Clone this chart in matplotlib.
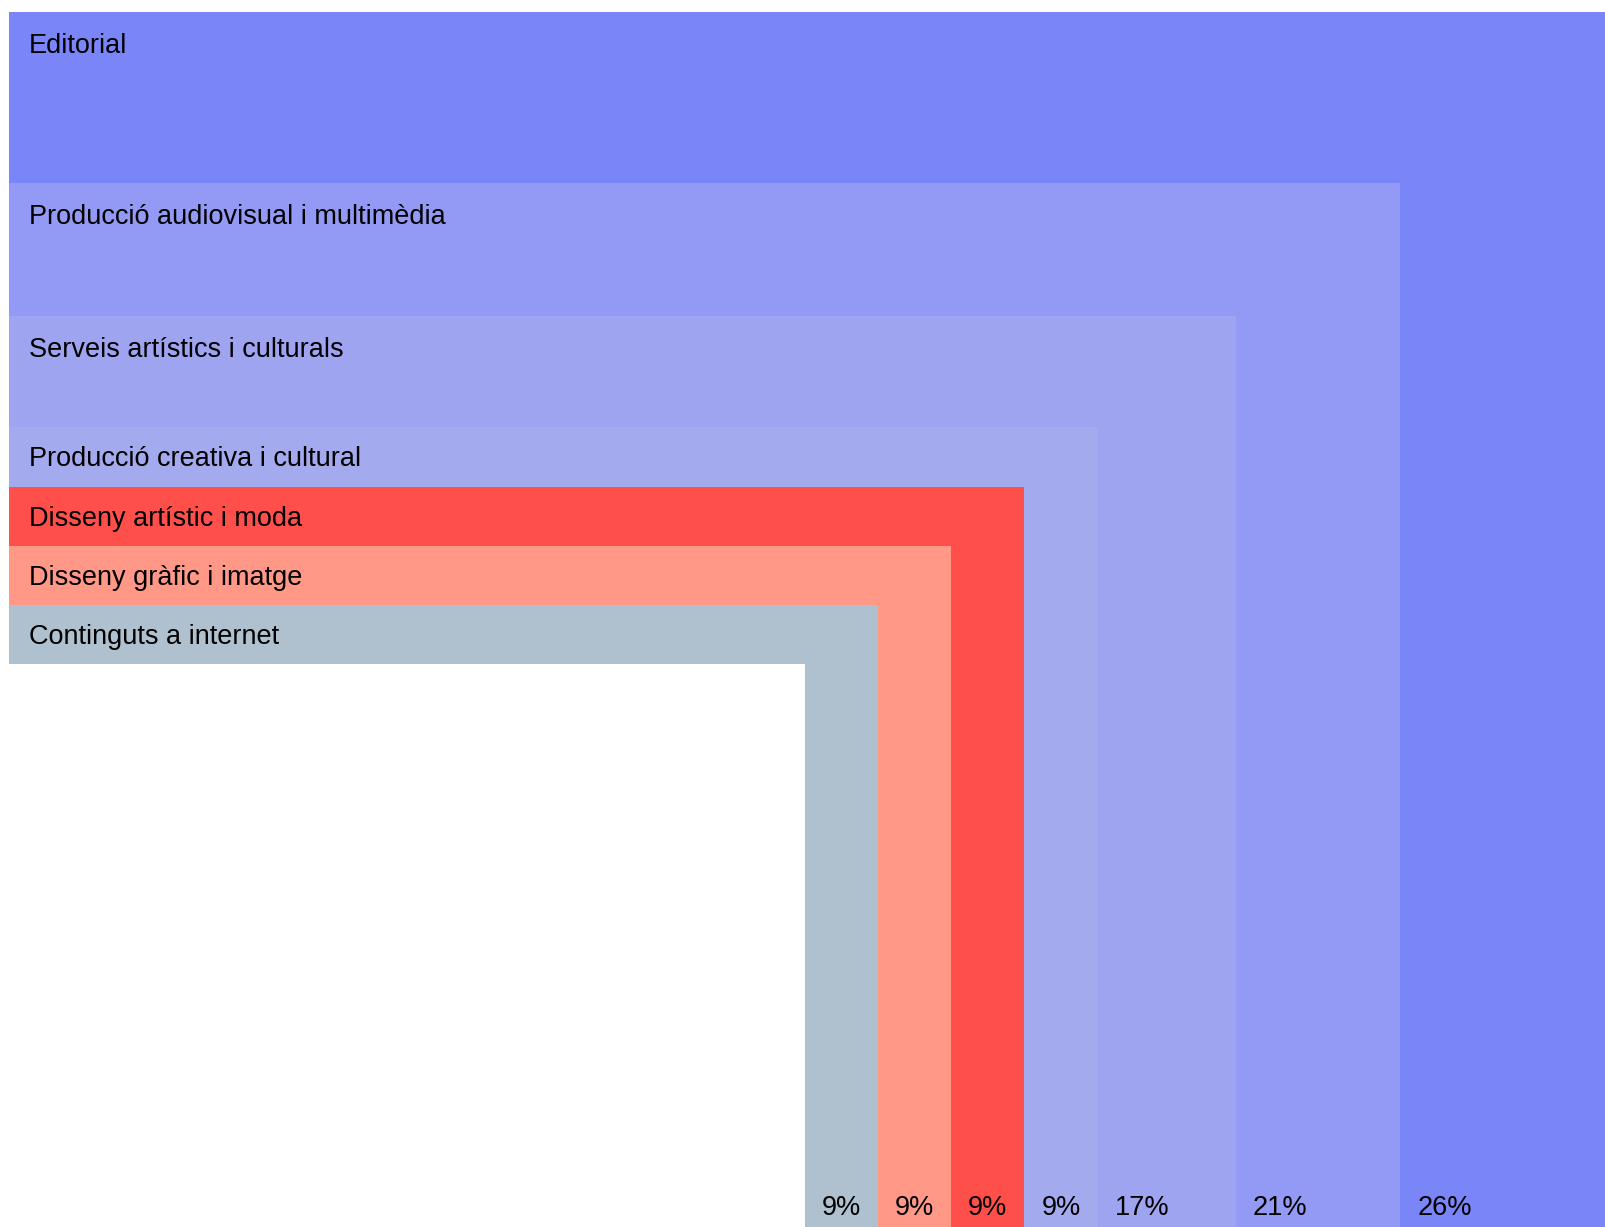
import matplotlib
matplotlib.use("Agg")
import matplotlib.pyplot as plt

# categories from the largest (outer L) to the smallest (inner L)
categories = [
    "Editorial",
    "Producció audiovisual i multimèdia",
    "Serveis artístics i culturals",
    "Producció creativa i cultural",
    "Disseny artístic i moda",
    "Disseny gràfic i imatge",
    "Continguts a internet",
]
shares = [26.2, 20.4, 17.1, 9.1, 9.1, 9.1, 9.0]
pct_labels = ["26%", "21%", "17%", "9%", "9%", "9%", "9%"]
colors = ["#7A85F7", "#929AF5", "#9FA4F1", "#A4AAEE", "#FF4F4A", "#FF9887", "#AFC0CF"]

plt.rcParams['font.family'] = ['Liberation Sans', 'DejaVu Sans']

fig = plt.figure(figsize=(16.06, 12.27), dpi=100)
ax = fig.add_axes([0, 0, 1, 1])

# x: columns take 0..100, bands start at the left edge
x_left = -98.7
xlim = (-99.79, 99.29)
ylim = (186.4, -1.84)
y_bottom = 200

cum = 0
for name, val, lab, col in zip(categories, shares, pct_labels, colors):
    right = 100 - cum
    left = right - val
    # horizontal band
    ax.barh(cum, right - x_left, height=val, left=x_left, align='edge',
            color=col, linewidth=0)
    # vertical column
    ax.bar(left, y_bottom - cum, width=val, bottom=cum, align='edge',
           color=col, linewidth=0)
    # label sits near the top, or centred when the band is thin
    ax.text(x_left + 2.45, cum + min(val / 2, 4.9) + 1.46, name,
            fontsize=19.5, va='baseline', ha='left', color='black')
    ax.text(left + 2.1, 184.6, lab, fontsize=19.5, va='baseline',
            ha='left', color='black')
    cum += val

ax.set_xlim(*xlim)
ax.set_ylim(*ylim)
ax.axis('off')

fig.savefig("out.png", dpi=100)
